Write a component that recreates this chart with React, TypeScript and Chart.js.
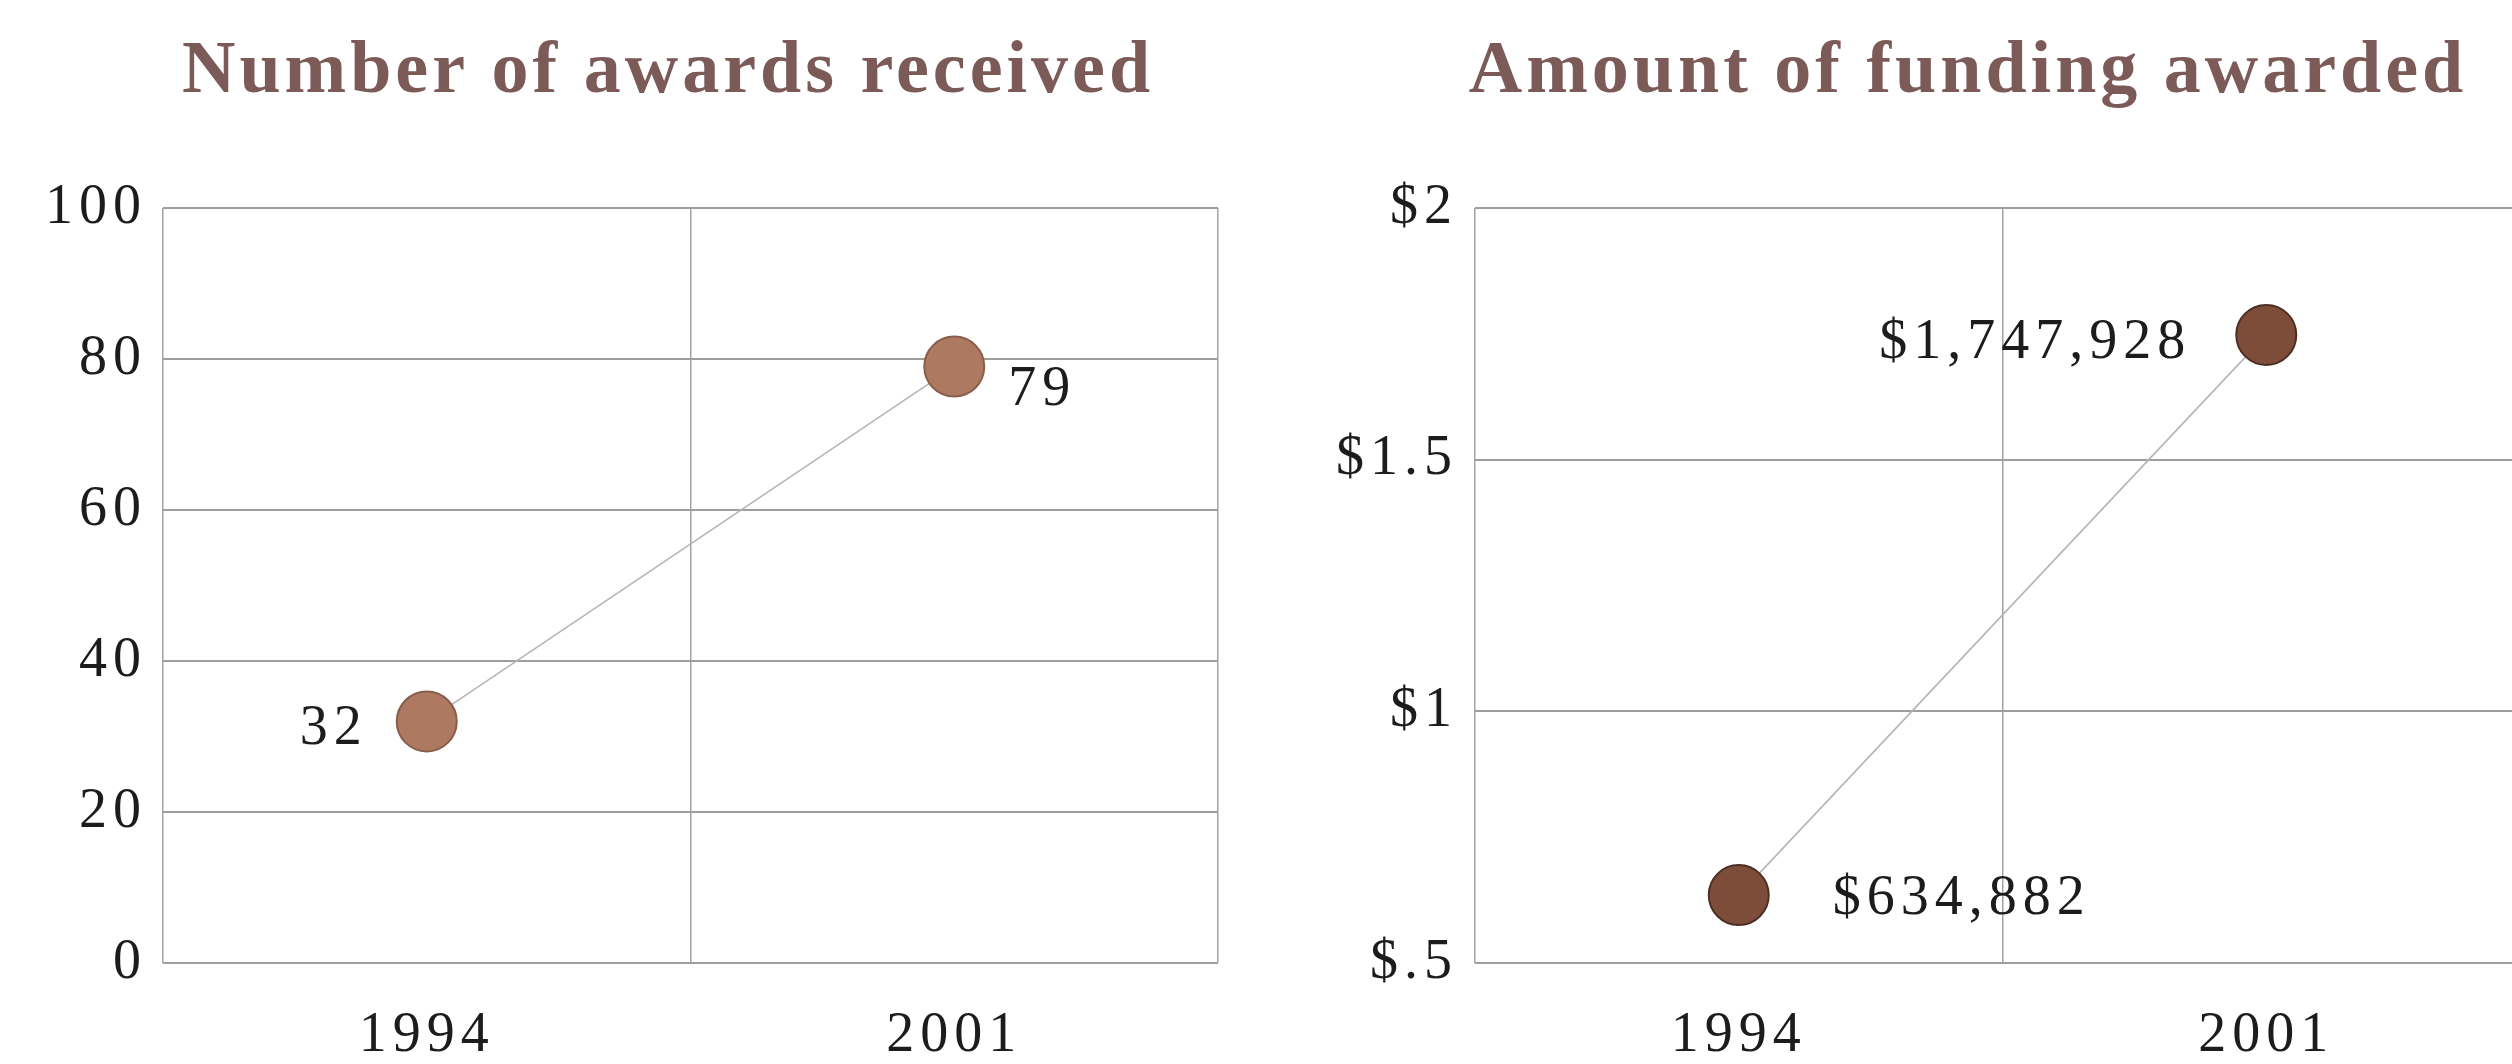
import React, { useEffect, useRef } from 'react';
import { Chart, registerables } from 'chart.js';

Chart.register(...registerables);

// ---- data ----
const years = ['1994', '2001'];
const awardsCount = [32, 79];
const awardsLabels = ['32', '79'];
const awardsTickValues = [0, 20, 40, 60, 80, 100];
const awardsTickLabels = ['0', '20', '40', '60', '80', '100'];

const fundingMillions = [0.634882, 1.747928];
const fundingLabels = ['$634,882', '$1,747,928'];
const fundingTickValues = [0.5, 1, 1.5, 2];
const fundingTickLabels = ['$.5', '$1', '$1.5', '$2'];

const titleAwards = 'Number of awards received';
const titleFunding = 'Amount of funding awarded';

// ---- styling ----
const FONT = "'Liberation Serif', 'Times New Roman', serif";
const TITLE_COLOR = '#7b5a58';
const TEXT_COLOR = '#1c1c1c';
const HGRID = '#9e9e9e';
const VGRID = '#a2a2a2';

type LabelPos = { align: CanvasTextAlign; dx: number; dy: number };

const textPlugin = {
  id: 'textStyling',
  beforeDraw(chart: any) {
    chart.ctx.letterSpacing = '4px';
  },
  afterDatasetsDraw(chart: any) {
    chart.ctx.letterSpacing = '6px';
  },
  afterDraw(chart: any) {
    const o = chart.options.plugins.pointLabels;
    if (!o) return;
    const ctx = chart.ctx;
    const meta = chart.getDatasetMeta(0);
    ctx.save();
    ctx.letterSpacing = '6px';
    ctx.font = `56px ${FONT}`;
    ctx.fillStyle = TEXT_COLOR;
    ctx.textBaseline = 'middle';
    meta.data.forEach((pt: any, i: number) => {
      const p: LabelPos = o.positions[i];
      ctx.textAlign = p.align;
      ctx.fillText(o.labels[i], pt.x + p.dx, pt.y + p.dy);
    });
    ctx.restore();
    ctx.letterSpacing = '0px';
  },
};

function makeConfig(opts: {
  title: string;
  values: number[];
  labels: string[];
  tickValues: number[];
  tickLabels: string[];
  min: number;
  max: number;
  padLeft: number;
  yWidth: number;
  yPad: number;
  rightSpacer: number;
  pointFill: string;
  pointBorder: string;
  positions: LabelPos[];
}): any {
  return {
    type: 'line',
    data: {
      labels: years,
      datasets: [
        {
          data: opts.values,
          borderColor: '#b5b5b5',
          borderWidth: 1.6,
          pointRadius: 30,
          pointHoverRadius: 30,
          pointBackgroundColor: opts.pointFill,
          pointBorderColor: opts.pointBorder,
          pointBorderWidth: 2,
          tension: 0,
          clip: false,
          yAxisID: 'y',
        },
      ],
    },
    options: {
      responsive: true,
      maintainAspectRatio: false,
      animation: false,
      events: [],
      layout: { padding: { left: opts.padLeft, right: 0, top: 0, bottom: 0 } },
      plugins: {
        legend: { display: false },
        tooltip: { enabled: false },
        title: {
          display: true,
          text: opts.title,
          color: TITLE_COLOR,
          font: { family: FONT, size: 74, weight: 'bold', lineHeight: 1 },
          padding: { top: 36, bottom: 98 },
        },
        pointLabels: { labels: opts.labels, positions: opts.positions },
      },
      scales: {
        x: {
          type: 'category',
          offset: true,
          grid: { offset: true, drawTicks: false, color: VGRID, lineWidth: 1.5 },
          border: { display: false },
          ticks: {
            font: { family: FONT, size: 56, lineHeight: 1 },
            color: TEXT_COLOR,
            padding: 45,
            maxRotation: 0,
            autoSkip: false,
            z: 1,
          },
          afterFit: (s: any) => {
            s.height = 101;
          },
        },
        y: {
          position: 'left',
          min: opts.min,
          max: opts.max,
          grid: { drawTicks: false, color: HGRID, lineWidth: 2 },
          border: { display: false },
          afterBuildTicks: (s: any) => {
            s.ticks = opts.tickValues.map((v) => ({ value: v }));
          },
          ticks: {
            font: { family: FONT, size: 56, lineHeight: 1 },
            color: TEXT_COLOR,
            padding: opts.yPad,
            z: 1,
            callback: (v: number) => {
              const i = opts.tickValues.indexOf(v);
              return i >= 0 ? opts.tickLabels[i] : '';
            },
          },
          afterFit: (s: any) => {
            s.width = opts.yWidth;
          },
        },
        spacer: {
          type: 'linear',
          position: 'right',
          display: true,
          grid: { display: false, drawTicks: false },
          border: { display: false },
          ticks: { display: false },
          afterFit: (s: any) => {
            s.width = opts.rightSpacer;
          },
        },
      },
    },
    plugins: [textPlugin],
  };
}

function ChartBox(props: { config: any; left: number; width: number }) {
  const ref = useRef<HTMLCanvasElement | null>(null);
  useEffect(() => {
    if (!ref.current) return;
    const chart = new Chart(ref.current, props.config);
    return () => chart.destroy();
  }, []);
  return (
    <div style={{ position: 'absolute', left: props.left, top: 0, width: props.width, height: 1064 }}>
      <canvas ref={ref} />
    </div>
  );
}

export default function App() {
  // left chart: canvas 0..1316, plot 163..1218, title centred at 668
  const awardsConfig = makeConfig({
    title: titleAwards,
    values: awardsCount,
    labels: awardsLabels,
    tickValues: awardsTickValues,
    tickLabels: awardsTickLabels,
    min: 0,
    max: 100,
    padLeft: 20,
    yWidth: 143,
    yPad: 16,
    rightSpacer: 98,
    pointFill: '#ad7a61',
    pointBorder: '#8a5d4b',
    positions: [
      { align: 'right', dx: -59, dy: 8 },
      { align: 'left', dx: 54, dy: 24 },
    ],
  });
  // right chart: canvas starts at 1256; plot 1475..2530, title centred at 1968
  const fundingConfig = makeConfig({
    title: titleFunding,
    values: fundingMillions,
    labels: fundingLabels,
    tickValues: fundingTickValues,
    tickLabels: fundingTickLabels,
    min: 0.5,
    max: 2,
    padLeft: 20,
    yWidth: 199,
    yPad: 17,
    rightSpacer: 130,
    pointFill: '#7e4d39',
    pointBorder: '#4d2e24',
    positions: [
      { align: 'left', dx: 94, dy: 4 },
      { align: 'right', dx: -75, dy: 8 },
    ],
  });
  return (
    <div
      style={{
        position: 'fixed',
        left: 0,
        top: 0,
        width: 2512,
        height: 1064,
        overflow: 'hidden',
        background: '#ffffff',
      }}
    >
      <ChartBox config={awardsConfig} left={0} width={1316} />
      <ChartBox config={fundingConfig} left={1256} width={1404} />
    </div>
  );
}
